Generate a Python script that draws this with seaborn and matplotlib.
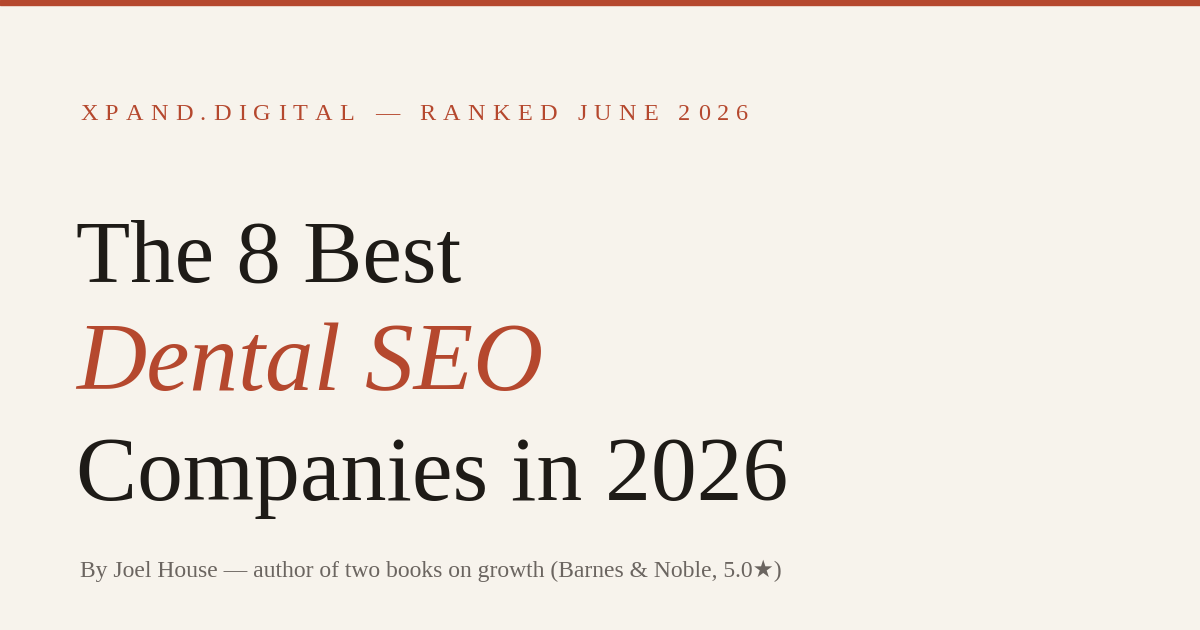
import matplotlib
matplotlib.use("Agg")
import matplotlib.pyplot as plt
import seaborn as sns

kicker = "XPAND.DIGITAL — RANKED JUNE 2026"
title_lines = ["The 8 Best", "Dental SEO", "Companies in 2026"]
title_styles = ["normal", "italic", "normal"]
title_colors = ["#1e1b17", "#b5482e", "#1e1b17"]
title_sizes = [64, 70, 66]
byline = "By Joel House — author of two books on growth (Barnes & Noble, 5.0★)"

sns.set_theme(style="white")
plt.rcParams['font.family'] = ['Liberation Serif', 'DejaVu Sans']

W, H = 1200, 630
fig = plt.figure(figsize=(12, 6.3), dpi=100, facecolor="#f7f3ec")
ax = fig.add_axes([0, 0, 1, 1])
ax.set_xlim(0, W); ax.set_ylim(H, 0); ax.axis("off")
ax.set_facecolor("#f7f3ec")
ax.axhspan(0, 5, color="#b5482e")

fig.canvas.draw()
r = fig.canvas.get_renderer()
x = 80
for ch in kicker:
    t = ax.text(x, 120, ch, fontsize=17.5, color="#b5482e", va="baseline", ha="left")
    bb = t.get_window_extent(r)
    w = bb.width if ch != " " else 6
    x += w + 7.2

baselines = [282, 390, 500]
for line, st, c, s, y in zip(title_lines, title_styles, title_colors, title_sizes, baselines):
    ax.text(76, y, line, fontsize=s, style=st, color=c, va="baseline", ha="left")

ax.text(80, 577, byline, fontsize=17, color="#6b6560", va="baseline", ha="left")
fig.savefig("out.png", dpi=100, facecolor=fig.get_facecolor())
